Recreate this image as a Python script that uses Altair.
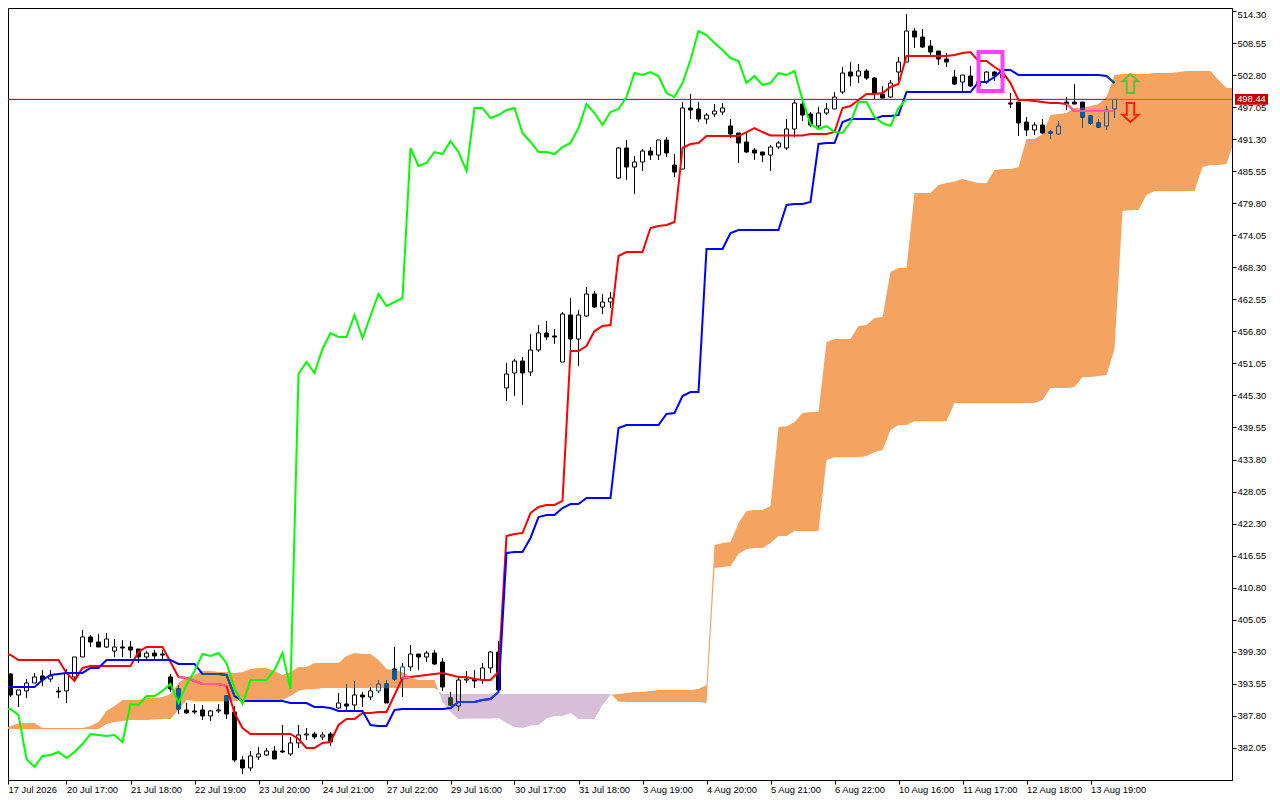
import altair as alt
import pandas as pd

opens = [401.23,395.31,391.54,392.26,393.69,394.95,394.41,392.26,392.26,394.77,398.36,401.95,401.05,400.15,399.43,400.15,400.15,399.79,398.36,399.07,
398.89,394.77,392.62,388.85,388.67,388.85,387.77,388.67,391.36,388.49,379.88,378.44,380.41,380.77,381.49,381.49,380.95,382.93,384.36,384.54,
384.0,384.54,389.21,389.92,389.74,391.54,391.18,392.26,393.51,396.21,394.41,396.57,398.89,398.36,399.07,397.46,391.0,389.56,394.23,394.41,
394.23,396.39,399.25,446.64,449.33,451.48,449.51,453.46,456.51,455.97,451.3,459.74,455.43,459.56,463.51,461.17,462.07,484.32,489.71,486.3,
487.2,489.17,488.45,491.14,486.66,485.94,496.89,496.71,494.91,495.81,496.17,493.66,492.4,490.79,489.35,489.0,488.45,489.89,489.71,493.12,
497.6,495.81,493.66,495.99,496.71,499.76,503.35,502.63,503.53,502.27,499.4,498.86,503.35,505.14,510.71,509.63,508.01,507.12,505.68,502.45,
501.55,502.63,500.9,501.55,503.35,503.0,497.8,497.96,494.37,492.94,493.84,492.58,492.22,497.96,497.96,497.96,495.45,494.2,493.66,496.71]
highs = [401.23,395.49,392.44,394.41,395.49,396.03,396.03,392.97,396.21,398.36,403.2,402.31,402.49,402.67,401.59,401.41,401.23,399.79,399.43,399.61,
399.61,395.31,393.33,390.1,389.92,389.74,388.85,389.92,391.36,389.56,380.6,381.49,382.21,382.03,382.39,386.16,384.0,386.16,385.62,384.9,
384.9,384.9,391.9,393.51,394.05,392.08,392.97,394.23,394.23,400.15,397.28,400.51,398.89,399.43,399.61,398.18,392.08,394.77,395.85,396.03,
397.28,399.43,401.23,451.12,451.84,452.2,456.33,457.94,458.66,457.23,460.28,462.79,460.63,464.76,464.04,463.51,463.86,489.89,491.14,488.27,
489.53,489.89,491.14,491.68,488.63,497.96,499.4,497.96,495.99,497.6,497.78,494.91,492.4,492.4,489.71,489.0,490.25,490.97,494.91,498.32,
498.86,496.17,497.07,497.78,499.76,504.25,505.14,504.78,503.89,502.45,500.84,501.91,506.04,513.76,511.24,511.07,509.09,507.12,506.76,503.71,
502.81,504.43,502.0,503.53,503.53,503.5,499.58,497.96,495.27,494.37,494.91,492.94,494.55,498.86,501.19,497.96,495.63,494.91,497.25,498.5]
lows = [395.13,391.18,389.38,391.0,393.69,393.15,393.87,391.0,390.1,393.87,398.36,400.15,400.15,399.97,398.36,398.36,398.18,397.28,398.0,397.82,
398.0,392.08,388.13,388.13,388.13,387.06,386.88,388.31,387.23,379.52,377.36,377.9,379.88,380.6,380.05,381.13,380.6,382.03,383.47,383.64,
383.47,382.39,389.03,388.85,388.85,389.38,390.64,391.9,390.1,394.05,391.18,395.85,396.03,397.46,396.92,392.26,389.56,388.67,393.69,392.79,
393.51,395.49,392.44,444.31,445.2,443.59,448.79,453.1,455.25,454.53,451.3,452.92,450.58,459.38,460.99,459.92,460.99,484.14,483.97,481.45,
485.58,487.56,487.56,488.09,484.5,485.94,494.91,494.37,494.02,495.27,495.63,491.5,487.02,488.81,487.56,487.2,485.58,489.53,489.35,491.68,
494.55,493.48,493.3,495.63,496.71,499.4,500.84,501.37,501.91,498.5,498.68,498.68,501.02,505.14,507.66,507.66,506.04,504.6,504.25,501.02,
499.94,500.66,500.5,501.2,501.73,502.0,496.89,491.86,491.86,492.04,492.22,491.32,492.04,496.53,497.6,493.3,493.84,493.3,492.94,495.1]
closes = [395.13,391.54,392.44,393.69,394.77,394.23,394.95,392.08,395.49,398.36,401.95,401.05,400.15,401.59,400.15,399.97,399.61,398.36,399.07,398.54,
398.71,392.62,389.03,388.31,388.49,387.77,388.67,388.85,388.13,379.88,378.44,380.6,380.95,381.49,380.05,381.31,382.93,384.36,384.54,384.0,
384.36,383.11,390.1,389.56,391.54,391.18,392.26,393.51,390.1,394.41,396.57,398.89,398.36,399.07,397.1,392.97,389.74,394.23,394.41,394.05,
396.39,399.25,392.44,449.15,451.48,449.33,453.46,456.51,455.79,455.79,459.92,455.43,459.74,463.51,461.17,462.07,462.79,489.71,486.3,487.2,
489.17,488.45,491.14,488.81,485.4,496.89,496.53,494.91,495.63,496.35,496.89,492.22,490.61,489.0,488.81,488.45,489.89,490.61,493.12,497.78,
495.63,493.84,495.99,496.71,498.86,503.17,502.63,503.53,502.27,499.58,498.68,501.37,505.14,510.71,509.63,507.84,506.94,505.68,505.14,501.19,
502.81,500.84,501.6,503.35,502.63,502.3,497.6,494.2,492.94,493.84,492.4,492.4,493.66,497.6,497.6,495.27,494.2,493.48,496.53,498.44]

tenkan = [399.07,398.72,397.82,397.82,397.82,397.82,397.82,397.82,395.49,394.05,396.39,396.75,396.75,396.75,396.75,396.75,396.75,399.25,400.15,400.15,
400.15,397.46,394.77,394.59,394.05,393.51,393.51,393.51,393.15,388.31,385.62,384.54,384.54,384.54,384.54,384.54,384.54,383.64,382.03,382.03,
382.92,383.1,386.16,387.23,387.23,388.31,388.31,388.49,388.49,391.54,394.59,394.77,394.95,395.13,395.31,395.49,395.13,394.77,394.77,394.41,
394.23,394.23,395.67,420.07,420.43,420.61,424.2,425.28,425.64,425.64,426.36,453.28,453.28,454.17,456.86,457.76,457.94,470.33,471.04,471.04,
471.04,475.35,475.71,475.89,476.43,489.71,490.43,490.61,491.86,491.86,491.86,491.86,491.86,492.58,493.3,492.58,491.95,491.95,491.95,491.95,
491.95,492.22,492.22,492.22,492.58,496.89,497.25,498.32,499.4,499.4,499.58,500.66,501.19,506.22,506.22,506.22,506.22,506.22,506.22,506.4,
506.76,506.94,505.32,505.32,504.25,503.35,501.37,498.32,498.32,498.14,497.96,497.78,497.78,497.6,496.35,496.35,496.35,496.35,496.35,496.35]
kijun = [392.97,392.97,392.97,392.97,392.97,394.23,395.13,395.31,395.49,395.49,395.49,396.39,396.39,397.82,397.82,397.82,397.82,397.82,397.82,397.82,
397.82,397.82,397.1,397.1,397.1,395.31,395.31,395.31,395.13,391.36,390.46,390.46,390.46,390.46,390.46,390.46,390.1,390.1,390.1,389.38,
389.38,389.2,388.67,388.67,388.67,388.67,386.16,385.98,385.98,388.85,389.03,389.03,389.03,389.03,389.03,389.03,389.2,390.28,390.28,390.28,
390.64,390.82,392.08,417.02,417.2,417.2,419.72,423.48,423.84,423.84,425.1,425.82,425.82,426.89,426.89,426.89,426.89,439.46,440.0,440.0,
440.0,440.0,440.0,441.97,442.15,445.2,445.92,445.92,471.58,471.58,471.58,474.45,475.0,475.0,475.0,475.0,475.0,475.0,479.48,479.66,
479.66,480.02,490.43,490.61,490.61,494.38,494.91,494.91,494.91,494.91,495.45,495.45,495.63,499.76,499.76,499.76,499.76,499.76,499.76,499.76,
499.76,499.76,501.55,501.55,502.45,503.71,503.71,502.81,502.81,502.81,502.81,502.81,502.81,502.81,502.81,502.81,502.81,502.81,502.63,501.37]
chikou = [389.03,389.03,387.95,380.05,378.62,380.6,380.77,381.31,380.23,381.31,382.74,384.54,384.36,384.18,384.36,383.1,389.92,389.74,391.36,391.36,
392.26,393.51,390.1,393.33,395.85,398.9,398.54,399.07,397.28,392.79,389.92,394.23,394.23,394.23,396.03,399.07,392.62,449.15,451.3,449.33,
453.64,456.51,455.79,455.79,459.74,455.61,459.56,463.51,461.35,462.07,462.79,489.71,486.48,487.02,488.99,488.63,490.96,488.99,485.58,496.89,
496.89,495.09,495.63,496.53,496.89,492.4,490.79,488.99,488.99,488.63,489.89,490.61,493.3,497.6,495.99,493.84,496.17,496.71,498.86,503.17,
502.81,503.35,502.63,499.58,498.86,501.37,505.5,510.71,509.99,508.55,507.3,505.86,505.32,501.37,502.63,501.02,501.37,503.17,502.81,503.53,
498.32,494.02,493.12,493.66,492.58,492.4,494.38,497.96,497.96,495.27,494.2,493.66,496.89,498.5]

span_a = [385.44,385.98,386.43,386.51,386.51,385.62,385.62,385.62,385.62,385.62,385.62,385.98,386.69,388.67,389.56,390.64,390.64,390.64,391.0,391.0,
391.18,391.72,393.69,394.77,395.13,395.85,395.85,395.67,395.67,395.49,395.67,396.21,396.39,396.39,395.85,395.13,395.67,396.57,396.57,397.28,
397.28,397.28,397.28,398.54,399.07,398.89,398.89,397.82,396.21,396.03,395.67,394.77,394.23,394.23,394.23,390.28,388.49,387.23,387.32,387.32,
387.32,387.32,387.41,386.51,385.79,385.62,386.07,386.16,387.32,387.77,387.77,388.31,387.29,387.23,387.23,389.74,391.54,391.72,391.9,392.08,
392.08,392.26,392.44,392.44,392.44,392.44,392.44,392.62,393.33,418.46,418.82,419.0,422.41,424.56,424.74,424.74,425.46,439.64,439.73,440.53,
442.15,442.33,442.33,454.89,455.43,455.43,455.43,457.76,457.94,459.2,459.38,467.45,468.17,468.17,481.63,481.63,481.63,483.07,483.43,483.7,
484.14,483.78,483.43,483.43,485.76,485.94,485.94,486.3,491.32,491.32,492.22,495.63,495.81,495.99,496.89,496.89,497.25,497.61,498.86,502.81,
502.99,502.99,502.99,502.99,503.17,503.17,503.17,503.35,503.53,503.53,503.53,503.53,501.91,500.48,500.48]
span_b = [385.44,385.44,385.44,385.44,385.44,385.44,385.44,385.44,385.44,385.44,385.44,385.44,385.44,386.33,386.69,386.87,387.06,387.06,387.06,387.14,
387.23,387.23,388.85,390.64,390.46,390.46,390.46,390.46,390.46,390.46,390.46,390.64,390.64,390.64,390.64,390.64,391.36,392.26,392.62,392.62,
392.79,392.79,392.79,392.79,392.79,392.79,392.79,392.79,392.79,392.79,392.79,392.79,392.79,392.79,392.79,391.72,391.72,391.72,391.72,391.72,
391.72,391.72,391.72,391.72,391.72,391.72,391.72,391.72,391.72,391.72,391.72,391.72,391.72,391.72,391.72,391.72,391.72,390.37,390.28,390.28,
390.28,390.28,390.28,390.28,390.28,390.28,390.28,390.28,390.1,414.33,414.51,414.69,416.84,417.74,417.92,417.92,418.82,420.07,420.07,420.97,
420.97,420.97,420.97,433.71,434.25,434.25,434.25,434.25,434.43,435.15,435.51,439.1,440.0,440.0,440.71,440.71,440.71,440.71,440.71,443.94,
443.94,443.94,443.94,443.94,443.94,443.94,443.94,443.94,443.94,443.94,444.49,446.64,446.64,446.64,446.82,448.61,448.61,448.79,448.97,453.63,
478.4,478.58,478.58,481.27,481.99,481.99,481.99,481.99,481.99,481.99,486.3,486.66,486.66,486.84,491.32]

price_ticks = [514.30,508.55,502.80,497.05,491.30,485.55,479.80,474.05,468.30,462.55,456.80,451.05,445.30,439.55,433.80,428.05,422.30,416.55,410.80,405.05,399.30,393.55,387.80,382.05]
time_labels = ["17 Jul 2026","20 Jul 17:00","21 Jul 18:00","22 Jul 19:00","23 Jul 20:00","24 Jul 21:00","27 Jul 22:00","29 Jul 16:00","30 Jul 17:00","31 Jul 18:00","3 Aug 19:00","4 Aug 20:00","5 Aug 21:00","6 Aug 22:00","10 Aug 16:00","11 Aug 17:00","12 Aug 18:00","13 Aug 19:00"]
last_price = 498.44
signal_box = [122, 125, 506.94, 499.94]
arrow_bar = 141
arrow_up_price = 501.29
arrow_down_price = 496.08
pink_spans = [(22, 28), (50, 51), (133, 139)]
teal_spans = [(25, 29), (138, 139)]
violet_spans = [(56, 62)]

X0, X1 = 0.6875, 153.6875
Y0, Y1 = 376.28, 514.84
ORANGE, THISTLE = "#F4A460", "#D8BFD8"
FONT = "Liberation Sans"

xs = alt.Scale(domain=[X0, X1], nice=False, zero=False, padding=0)
ys = alt.Scale(domain=[Y0, Y1], nice=False, zero=False, padding=0)
x_axis = alt.Axis(
    orient="bottom", values=[X0] + [8 * k for k in range(1, len(time_labels))],
    labelExpr="%s[round(datum.value / 8)]" % str(time_labels),
    labelAlign="left", labelBaseline="top", labelPadding=1, labelFlush=False, labelOverlap=False, labelBound=False,
    labelFont=FONT, labelFontSize=9.4, labelColor="#000000",
    tickColor="#000000", tickSize=4, domainColor="#000000", grid=False)
y_axis = alt.Axis(
    orient="right", values=price_ticks, format=".2f", labelPadding=1, labelOverlap=False, labelFlush=False,
    labelOffset={"condition": {"test": "datum.value > 514", "value": 3}, "value": 0},
    labelFont=FONT, labelFontSize=9.4, labelColor="#000000",
    tickColor="#000000", tickSize=4, domainColor="#000000", grid=False)
xq = lambda f: alt.X(f, type="quantitative", scale=xs, axis=x_axis, title=None)
yq = lambda f: alt.Y(f, type="quantitative", scale=ys, axis=y_axis, title=None)


def invert_on(i):
    a, b = span_a[i], span_b[i]
    return ("#0B5B9F" if a >= b else "#274027"), max(a, b), min(a, b)


# cloud polygons, split at the place where the two spans cross
rows, seg, cur = [], 0, None
for i in range(len(span_a)):
    a, b = span_a[i], span_b[i]
    col = ORANGE if a >= b else THISTLE
    if cur is not None and col != cur:
        pa, pb = span_a[i - 1], span_b[i - 1]
        t = (pb - pa) / ((a - pa) - (b - pb))
        xc, yc = i - 1 + t, pa + t * (a - pa)
        rows.append(dict(i=xc, hi=yc, lo=yc, c=cur, s=seg))
        seg += 1
        rows.append(dict(i=xc, hi=yc, lo=yc, c=col, s=seg))
    rows.append(dict(i=i, hi=max(a, b), lo=min(a, b), c=col, s=seg))
    cur = col
cloud = pd.DataFrame(rows)

# candles: body outlines and wicks, inverted where they stand on the cloud
bodies, wicks = [], []
for i, (o, h, l, c) in enumerate(zip(opens, highs, lows, closes)):
    top, bot = max(o, c), min(o, c)
    inv, chi, clo = invert_on(i)
    mid = (top + bot) / 2
    if c >= o:
        stroke = inv if clo <= mid <= chi else "#000000"
        bodies.append(dict(i=i, t=top, b=bot, f="transparent", st=stroke))
    else:
        bodies.append(dict(i=i, t=top, b=bot, f="#000000", st="#000000"))
        ot, ob = min(top, chi), max(bot, clo)
        if ot > ob:
            bodies.append(dict(i=i, t=ot, b=ob, f=inv, st=inv))
    for w_top, w_bot in ((h, top), (bot, l)):
        if w_top > w_bot:
            wicks.append(dict(i=i, t=w_top, b=w_bot, st="#000000"))
            ot, ob = min(w_top, chi), max(w_bot, clo)
            if ot > ob:
                wicks.append(dict(i=i, t=ot, b=ob, st=inv))
bodies = pd.DataFrame(bodies)
wicks = pd.DataFrame(wicks)


def line_df(vals):
    return pd.DataFrame({"i": list(range(len(vals))), "v": vals})


def line(vals, color):
    return alt.Chart(line_df(vals)).mark_line(color=color, strokeWidth=2, clip=True).encode(x=xq("i"), y=yq("v"))


def spans(vals, sp, color):
    out = []
    for a, b in sp:
        out.append(alt.Chart(line_df(vals).iloc[a:b + 1]).mark_line(color=color, strokeWidth=2, clip=True).encode(x=xq("i"), y=yq("v")))
    return out


cloud_layer = alt.Chart(cloud).mark_area(clip=True, interpolate="linear").encode(
    x=xq("i"), y=yq("hi"), y2="lo:Q", color=alt.Color("c:N", scale=None), detail="s:N")

wick_layer = alt.Chart(wicks).mark_rule(strokeWidth=1, clip=True).encode(
    x=xq("i"), y=yq("t"), y2="b:Q", color=alt.Color("st:N", scale=None))
body_layer = alt.Chart(bodies).mark_bar(size=4, strokeWidth=1, clip=True).encode(
    x=xq("i"), y=yq("t"), y2="b:Q",
    fill=alt.Fill("f:N", scale=None), stroke=alt.Stroke("st:N", scale=None))

price_df = pd.DataFrame([
    dict(a=X0, b=138, p=last_price, c="#A00808"),
    dict(a=138, b=X1, p=last_price, c="#A8608C"),
])
price_rule = alt.Chart(price_df).mark_rule(strokeWidth=1, clip=True).encode(
    x=xq("a"), x2="b:Q", y=yq("p"), color=alt.Color("c:N", scale=None))

box = alt.Chart(pd.DataFrame([dict(a=signal_box[0], b=signal_box[1], t=signal_box[2], l=signal_box[3])])).mark_rect(
    fillOpacity=0, stroke="#FF40FF", strokeWidth=4).encode(x=xq("a"), x2="b:Q", y=yq("t"), y2="l:Q")

UP = "M0,-1 L0.84,-0.23 L0.39,-0.23 L0.39,1 L-0.39,1 L-0.39,-0.23 L-0.84,-0.23 Z"
DOWN = "M0,1 L0.84,0.23 L0.39,0.23 L0.39,-1 L-0.39,-1 L-0.39,0.23 L-0.84,0.23 Z"
arrow_up = alt.Chart(pd.DataFrame({"i": [arrow_bar], "v": [arrow_up_price]})).mark_point(
    shape=UP, size=361, filled=False, stroke="#4CC83C", strokeWidth=2, opacity=1).encode(x=xq("i"), y=yq("v"))
arrow_down = alt.Chart(pd.DataFrame({"i": [arrow_bar], "v": [arrow_down_price]})).mark_point(
    shape=DOWN, size=361, filled=False, stroke="#FF2010", strokeWidth=2, opacity=1).encode(x=xq("i"), y=yq("v"))

tag_df = pd.DataFrame({"t": [last_price + 0.95], "b": [last_price - 0.95], "p": [last_price], "s": ["%.2f" % last_price]})
tag = alt.Chart(tag_df).mark_rect(color="#C80000", clip=False).encode(
    x=alt.value(1227), x2=alt.value(1260), y=yq("t"), y2="b:Q")
tag_text = alt.Chart(tag_df).mark_text(color="#FFFFFF", font=FONT, fontSize=9.4, align="center", baseline="middle", clip=False).encode(
    x=alt.value(1243.5), y=yq("p"), text="s:N")

layers = [cloud_layer, wick_layer, body_layer, price_rule, line(tenkan, "#FF0000")]
layers += spans(tenkan, pink_spans, "#FF5B9F")
layers += [line(kijun, "#0000FF")]
layers += spans(kijun, teal_spans, "#0B5B78")
layers += spans(kijun, violet_spans, "#2038E0")
layers += [line(chikou, "#00FF00"), box, arrow_up, arrow_down, tag, tag_text]

chart = alt.layer(*layers).properties(
    width=1224, height=772,
    autosize=alt.AutoSizeParams(type="none", contains="content"),
    padding={"left": 0, "top": 0, "right": 40, "bottom": 16},
    background="#FFFFFF",
).configure_view(stroke="#000000", strokeWidth=1)

chart.save("out.html", embed_options={"renderer": "svg", "actions": False})
